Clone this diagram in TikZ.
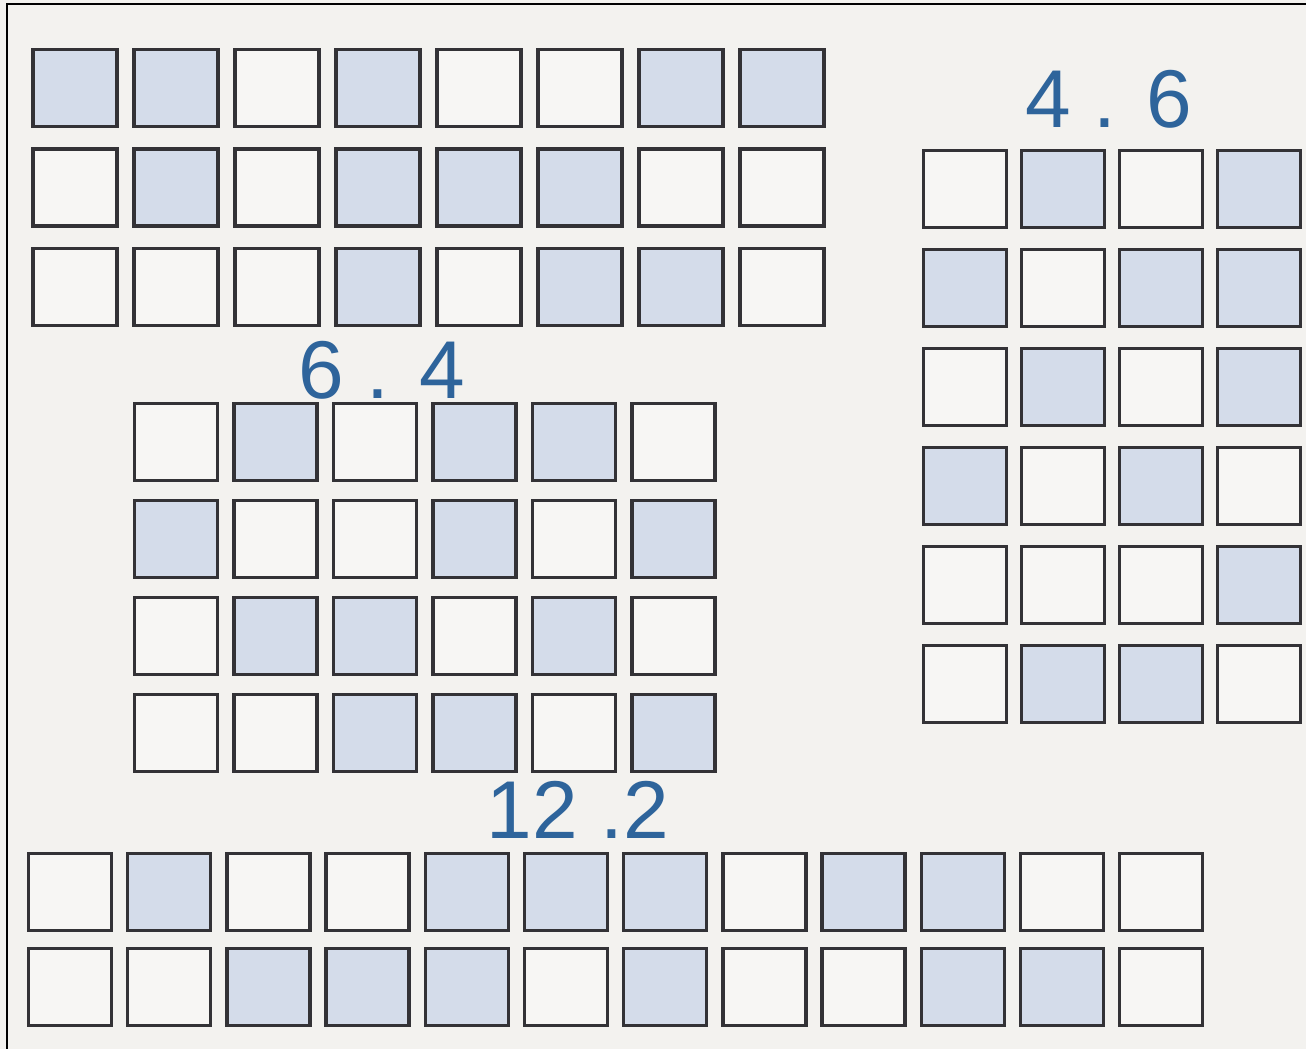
\documentclass[tikz,border=0pt]{standalone}
\usepackage{fontspec}
\usepackage{xcolor}
\usepackage{tikz}
\newfontfamily\labelfont{Liberation Sans}
\definecolor{paper}{HTML}{F3F2EF}
\definecolor{ink}{HTML}{333236}
\definecolor{shade}{HTML}{D4DCEA}
\definecolor{numblue}{HTML}{2E649B}

\begin{document}
\begin{tikzpicture}[x=1pt, y=-1pt, cell0/.style={draw=ink, line width=3.3pt, fill=paper!70!white, minimum width=83pt, minimum height=77pt, inner sep=0pt}, cell1/.style={cell0, fill=shade}, num/.style={font=\labelfont\fontsize{82}{90}\selectfont, text=numblue, inner sep=0pt, anchor=base}]
\fill[paper] (0,0) rectangle (1306,1049);
\useasboundingbox (0,0) rectangle (1306,1049);
\draw[line width=1.4pt] (7,1049) -- (7,4) -- (1306,4);
\foreach \pat [count=\r] in {{1,1,0,1,0,0,1,1},{0,1,0,1,1,1,0,0},{0,0,0,1,0,1,1,0}}
  \foreach \v [count=\c] in \pat
    \node[cell\v, minimum width=84pt] (g1-\r-\c) at ({75+101*(\c-1)},{88+99.5*(\r-1)}) {};
\foreach \pat [count=\r] in {{0,1,0,1,1,0},{1,0,0,1,0,1},{0,1,1,0,1,0},{0,0,1,1,0,1}}
  \foreach \v [count=\c] in \pat
    \node[cell\v] (g2-\r-\c) at ({176+99.5*(\c-1)},{442+97*(\r-1)}) {};
\foreach \pat [count=\r] in {{0,1,0,1},{1,0,1,1},{0,1,0,1},{1,0,1,0},{0,0,0,1},{0,1,1,0}}
  \foreach \v [count=\c] in \pat
    \node[cell\v] (g3-\r-\c) at ({965+98*(\c-1)},{189+99*(\r-1)}) {};
\foreach \pat [count=\r] in {{0,1,0,0,1,1,1,0,1,1,0,0},{0,0,1,1,1,0,1,0,0,1,1,0}}
  \foreach \v [count=\c] in \pat
    \node[cell\v] (g4-\r-\c) at ({70+99.2*(\c-1)},{892+95*(\r-1)}) {};
\node[num] (lbl46) at (1109,127) {4 . 6};
\node[num] (lbl64) at (382,398) {6 . 4};
\node[num] (lbl122) at (578,838) {12 .2};
\end{tikzpicture}
\end{document}
